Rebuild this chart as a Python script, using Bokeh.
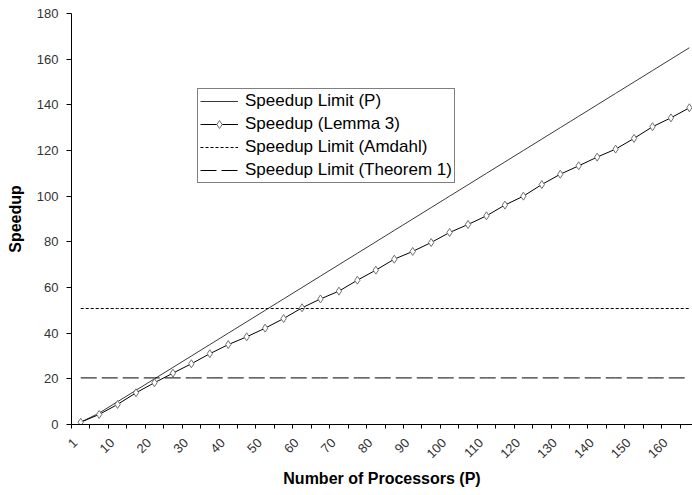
import math
from bokeh.plotting import figure
from bokeh.models import Range1d, FixedTicker, Legend, LegendItem
from bokeh.embed import file_html
from bokeh.resources import INLINE

# ---- data ----
processors = [1, 5, 10, 15, 20, 25, 30, 35, 40, 45, 50, 55, 60, 65, 70, 75, 80,
              85, 90, 95, 100, 105, 110, 115, 120, 125, 130, 135, 140, 145, 150,
              155, 160, 165]
speedup_limit_p = [1, 5, 10, 15, 20, 25, 30, 35, 40, 45, 50, 55, 60, 65, 70, 75, 80,
                   85, 90, 95, 100, 105, 110, 115, 120, 125, 130, 135, 140, 145, 150,
                   155, 160, 165]
speedup_lemma3 = [1.0, 4.4, 8.8, 13.9, 18.3, 22.5, 26.6, 31.0, 35.0, 38.4, 42.2,
                  46.4, 51.1, 55.0, 58.4, 63.2, 67.6, 72.4, 75.8, 79.7, 84.1, 87.6,
                  91.4, 96.1, 100.0, 105.1, 109.6, 113.3, 117.1, 120.6, 125.3,
                  130.4, 134.3, 138.7]
amdahl_limit = 50.8
theorem1_limit = 20.4
y_ticks = [0, 20, 40, 60, 80, 100, 120, 140, 160, 180]
legend_labels = ["Speedup Limit (P)", "Speedup (Lemma 3)",
                 "Speedup Limit (Amdahl)", "Speedup Limit (Theorem 1)"]

n = len(processors)
xs = [i + 0.5 for i in range(n)]
label_pos = [x - 0.3 for x in xs]  # rotated labels end just left of category centre
amdahl_series = [amdahl_limit for _ in processors]
theorem1_series = [theorem1_limit for _ in processors]

FONT = "Liberation Sans"

p = figure(width=692, height=495, output_backend="svg", toolbar_location=None,
           x_range=Range1d(0, 33.67), y_range=Range1d(0, 180),
           min_border_left=71, min_border_right=0, min_border_top=13,
           min_border_bottom=71)
p.outline_line_color = None
p.xgrid.visible = False
p.ygrid.visible = False
p.background_fill_color = "white"
p.border_fill_color = "white"

r_p = p.line(xs, speedup_limit_p, line_color="#3a3a3a", line_width=1)
r_lem_line = p.line(xs, speedup_lemma3, line_color="black", line_width=1)
r_lem_pts = p.scatter(xs, speedup_lemma3, marker="diamond", size=8,
                      line_color="#707070", fill_color="white", line_width=1)
r_am = p.line(xs, amdahl_series, line_color="black", line_width=1, line_dash="3 2")
r_th = p.line(xs, theorem1_series, line_color="black", line_width=1, line_dash="16 5")

# x axis: ticks between categories, labels at every other category
xax = p.xaxis[0]
xax.ticker = FixedTicker(ticks=label_pos, minor_ticks=list(range(n + 1)))
xax.major_label_overrides = {x: (str(v) if i % 2 == 0 else "")
                             for i, (x, v) in enumerate(zip(label_pos, processors))}
xax.major_tick_out = 0
xax.major_tick_in = 0
xax.minor_tick_out = 4
xax.minor_tick_in = 0
xax.minor_tick_line_color = "black"
xax.axis_line_color = "black"
xax.major_label_orientation = math.pi / 4
xax.major_label_text_font = FONT
xax.major_label_text_font_size = "13px"
xax.major_label_text_color = "#333333"
xax.major_label_standoff = 12
xax.axis_label = "Number of Processors (P)"
xax.axis_label_text_font = FONT
xax.axis_label_text_font_size = "16px"
xax.axis_label_text_font_style = "bold"
xax.axis_label_text_color = "black"
xax.axis_label_standoff = 5

yax = p.yaxis[0]
yax.ticker = FixedTicker(ticks=y_ticks)
yax.minor_tick_line_color = None
yax.major_tick_out = 5
yax.major_tick_in = 0
yax.major_tick_line_color = "black"
yax.axis_line_color = "black"
yax.major_label_text_font = FONT
yax.major_label_text_font_size = "13px"
yax.major_label_text_color = "#333333"
yax.major_label_standoff = 8
yax.axis_label = "Speedup"
yax.axis_label_text_font = FONT
yax.axis_label_text_font_size = "16px"
yax.axis_label_text_font_style = "bold"
yax.axis_label_text_color = "black"
yax.axis_label_standoff = 10

legend = Legend(items=[
    LegendItem(label=legend_labels[0], renderers=[r_p]),
    LegendItem(label=legend_labels[1], renderers=[r_lem_line, r_lem_pts]),
    LegendItem(label=legend_labels[2], renderers=[r_am]),
    LegendItem(label=legend_labels[3], renderers=[r_th]),
], location=(126, 241))
legend.label_text_font = FONT
legend.label_text_font_size = "17px"
legend.label_text_color = "black"
legend.glyph_width = 38
legend.glyph_height = 20
legend.label_height = 20
legend.label_standoff = 7
legend.spacing = 3
legend.padding = 2
legend.margin = 0
legend.border_line_color = "black"
legend.border_line_width = 1
legend.background_fill_color = "white"
legend.background_fill_alpha = 1
p.add_layout(legend, "center")

open("out.html", "w").write(file_html(p, INLINE))
